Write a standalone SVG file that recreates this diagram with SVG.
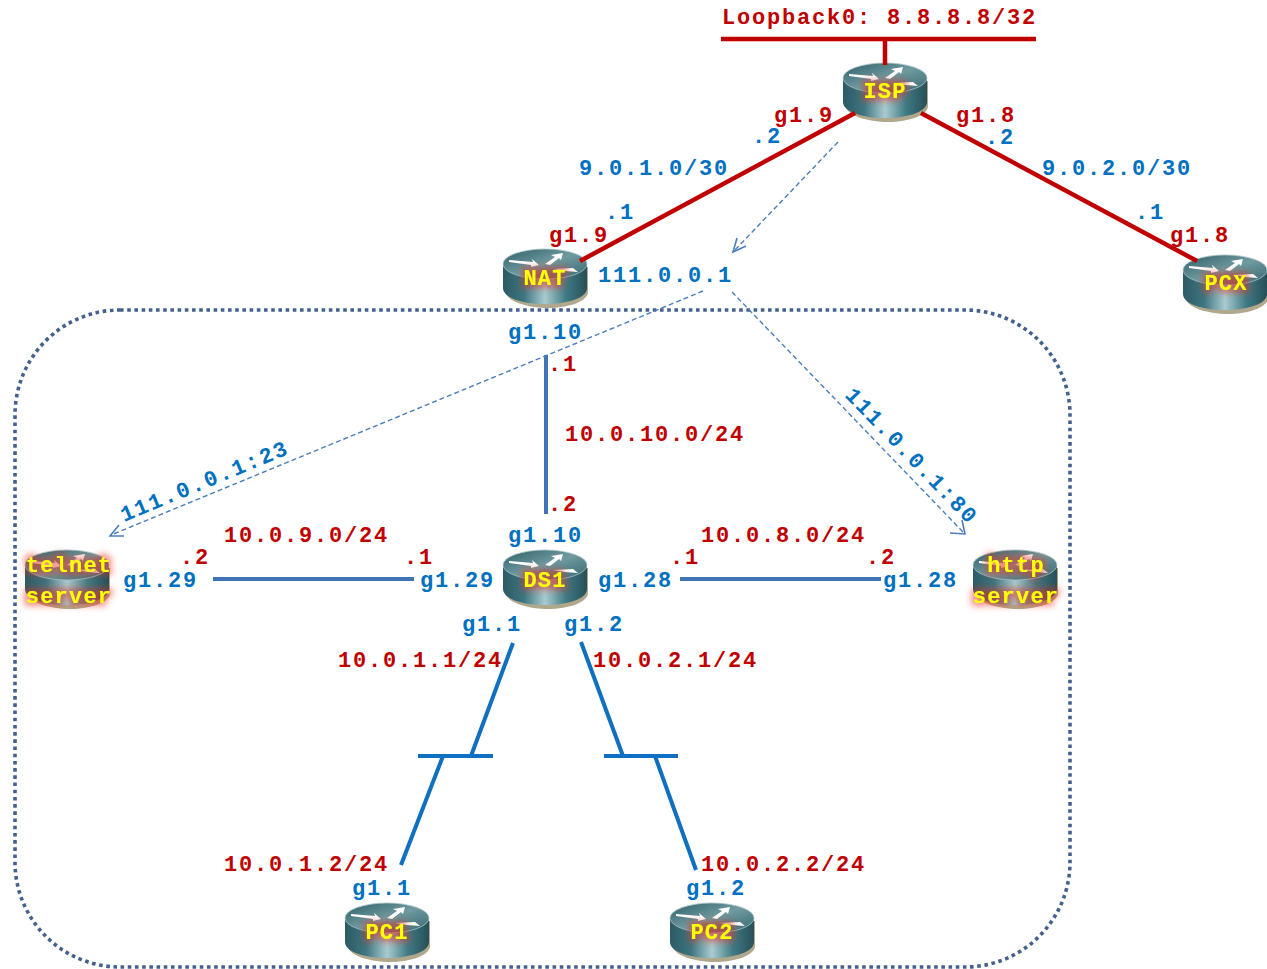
<svg xmlns="http://www.w3.org/2000/svg" xmlns:xlink="http://www.w3.org/1999/xlink" width="1267" height="969" viewBox="0 0 1267 969">
<style>
text{font-family:"Liberation Mono","Courier New",monospace;font-weight:700;font-size:22px;letter-spacing:1.8px}
.r{fill:#c00000}.b{fill:#0070c0}
.n{fill:#ffff00;font-size:22px;letter-spacing:1.2px;text-anchor:middle;filter:url(#glow)}
.red{stroke:#c00000;stroke-width:4.5;fill:none}
.blue{stroke:#3f74b5;stroke-width:4;fill:none}
.blue2{stroke:#0f6fc0;stroke-width:4;fill:none}
.dash{stroke:#4a7ebb;stroke-width:1.4;stroke-dasharray:5 3;fill:none}
.head{stroke:#4a7ebb;stroke-width:1.6;fill:none}
</style>
<defs>
<linearGradient id="side" x1="0" x2="1" y1="0" y2="0">
<stop offset="0" stop-color="#2c5a64"/><stop offset="0.25" stop-color="#3d7580"/><stop offset="0.5" stop-color="#a9cbd0"/><stop offset="0.75" stop-color="#3f7a84"/><stop offset="1" stop-color="#274f58"/>
</linearGradient>
<linearGradient id="top" x1="0" x2="1" y1="0" y2="1">
<stop offset="0" stop-color="#2f5f68"/><stop offset="0.5" stop-color="#6f9aa0"/><stop offset="1" stop-color="#356770"/>
</linearGradient>
<filter id="glow" x="-30%" y="-50%" width="160%" height="200%">
<feMorphology in="SourceAlpha" operator="dilate" radius="3" result="d"/>
<feGaussianBlur in="d" stdDeviation="3" result="bl"/>
<feFlood flood-color="#e8301e" flood-opacity="0.55"/>
<feComposite in2="bl" operator="in" result="g"/>
<feMerge><feMergeNode in="g"/><feMergeNode in="SourceGraphic"/></feMerge>
</filter>
<g id="router">
<path d="M-39 0V25C-39 34 -18 41 3 41C24 41 43 34 43 25V0Z" fill="#b0a88c"/>
<path d="M-42 -3V21C-42 31 -22 37 0 37C22 37 42 31 42 21V-3Z" fill="url(#side)"/>
<ellipse cx="0" cy="-3" rx="42" ry="15" fill="url(#top)" stroke="#a8c4c8" stroke-width="0.8"/>
<path d="M-36 -7L-12 -5L-13 -8L-6 -2L-14 0L-14 -2L-36 -5Z" fill="#fff"/>
<path d="M0 -3L10 -10L6 -12L18 -14L16 -7L14 -9L5 -2Z" fill="#fff"/>
<path d="M8 2L28 1L33 5L20 4Z" fill="#fff"/>
</g>
</defs>

<rect x="15" y="310" width="1055" height="657" rx="105" ry="105" fill="none" stroke="#44618c" stroke-width="3.6" stroke-dasharray="3.6 3.6"/>

<g id="node-isp"><use xlink:href="#router" href="#router" x="885" y="81"/><text class="n" x="885" y="98">ISP</text></g>
<g id="node-nat"><use xlink:href="#router" href="#router" x="545" y="267"/><text class="n" x="545" y="285">NAT</text></g>
<g id="node-pcx"><use xlink:href="#router" href="#router" x="1225" y="273"/><text class="n" x="1226" y="290">PCX</text></g>
<g id="node-ds1"><use xlink:href="#router" href="#router" x="545" y="568"/><text class="n" x="545" y="587">DS1</text></g>
<g id="node-telnet"><use xlink:href="#router" href="#router" x="67" y="568"/><text class="n" x="69" y="572">telnet</text><text class="n" x="69" y="603">server</text></g>
<g id="node-http"><use xlink:href="#router" href="#router" x="1015" y="568"/><text class="n" x="1016" y="572">http</text><text class="n" x="1016" y="603">server</text></g>
<g id="node-pc1"><use xlink:href="#router" href="#router" x="387" y="921"/><text class="n" x="387" y="939">PC1</text></g>
<g id="node-pc2"><use xlink:href="#router" href="#router" x="712" y="921"/><text class="n" x="712" y="939">PC2</text></g>

<g id="connectors">
<path class="red" d="M721 39H1036M885 40V65M855 113L580 261M921 113L1197 261"/>
<path class="blue" d="M546 355V514M213 579H414M680 579H881"/>
<path class="blue2" d="M513 643L471 756M581 642L623 756M418 756H493M604 756H678M443 756L401 865M655 756L696 870"/>
<path class="dash" d="M838 142L735 250M703 291L111 535M732 292L963 532"/>
<path class="head" d="M746 246L733 252L737 238M124 536L110 536L119 525M950 533L965 534L962 520"/>
</g>

<g id="labels">
<text class="r" x="722" y="24">Loopback0: 8.8.8.8/32</text>
<text class="r" x="774" y="122">g1.9</text>
<text class="r" x="956" y="122">g1.8</text>
<text class="b" x="752" y="143">.2</text>
<text class="b" x="985" y="144">.2</text>
<text class="b" x="579" y="175">9.0.1.0/30</text>
<text class="b" x="1042" y="175">9.0.2.0/30</text>
<text class="b" x="605" y="219">.1</text>
<text class="b" x="1135" y="219">.1</text>
<text class="r" x="549" y="242">g1.9</text>
<text class="r" x="1170" y="242">g1.8</text>
<text class="b" x="598" y="282">111.0.0.1</text>
<text class="b" x="508" y="339">g1.10</text>
<text class="r" x="548" y="371">.1</text>
<text class="r" x="565" y="441">10.0.10.0/24</text>
<text class="r" x="548" y="511">.2</text>
<text class="b" x="508" y="542">g1.10</text>
<text class="r" x="224" y="542">10.0.9.0/24</text>
<text class="r" x="701" y="542">10.0.8.0/24</text>
<text class="r" x="180" y="564">.2</text>
<text class="r" x="404" y="564">.1</text>
<text class="r" x="670" y="564">.1</text>
<text class="r" x="866" y="564">.2</text>
<text class="b" x="123" y="587">g1.29</text>
<text class="b" x="420" y="587">g1.29</text>
<text class="b" x="598" y="587">g1.28</text>
<text class="b" x="883" y="587">g1.28</text>
<text class="b" x="462" y="631">g1.1</text>
<text class="b" x="564" y="631">g1.2</text>
<text class="r" x="338" y="667">10.0.1.1/24</text>
<text class="r" x="593" y="667">10.0.2.1/24</text>
<text class="r" x="224" y="871">10.0.1.2/24</text>
<text class="r" x="701" y="871">10.0.2.2/24</text>
<text class="b" x="352" y="895">g1.1</text>
<text class="b" x="686" y="895">g1.2</text>
<text class="b" transform="translate(124,522) rotate(-22.4)">111.0.0.1:23</text>
<text class="b" transform="translate(844,396) rotate(46)">111.0.0.1:80</text>
</g>
</svg>
